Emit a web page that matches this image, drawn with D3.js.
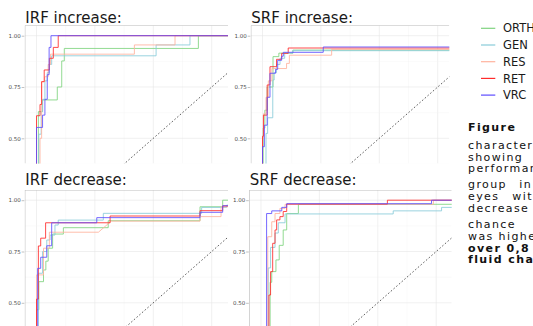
<!DOCTYPE html>
<html>
<head>
<meta charset="utf-8">
<script src="https://cdnjs.cloudflare.com/ajax/libs/d3/7.8.5/d3.min.js"></script>
<style>
  body { margin: 0; background: #fff; }
  text { font-family: 'DejaVu Sans', sans-serif; }
</style>
</head>
<body>
<div id="chart"></div>
<script>
// groups and their colours
var groups = ['ORTH', 'GEN', 'RES', 'RET', 'VRC'];
var colors = ['#7fd37f', '#88cbd9', '#ffb39e', '#ff2b2b', '#5d4dff'];
var yTicks = [0.50, 0.75, 1.00];
var titles = ['IRF increase:', 'SRF increase:', 'IRF decrease:', 'SRF decrease:'];

// ROC steps per group (ORTH, GEN, RES, RET, VRC): [fpr, tpr] where tpr steps up
// a third value 1 means the point is joined straight, not by a step
var irfIncrease = [
  [[0,0],[0.008,0.63],[0.026,0.687],[0.089,0.75],[0.108,0.877],[0.119,0.938],[0.693,1],[1,1]],
  [[0,0],[0.01,0.52],[0.02,0.63],[0.026,0.69],[0.036,0.78],[0.046,0.82],[0.055,0.86],[0.065,0.902],[0.512,0.955],[0.657,1],[1,1]],
  [[0,0],[0.015,0.5],[0.022,0.776],[0.035,0.80],[0.05,0.86],[0.06,0.91],[0.419,0.955],[0.593,1],[1,1]],
  [[0,0],[0,0.61],[0.015,0.665],[0.022,0.776],[0.033,0.833],[0.055,0.89],[0.072,0.943],[0.093,1],[1,1]],
  [[0,0],[0,0.553],[0.026,0.613],[0.036,0.69],[0.046,0.81],[0.054,0.943],[0.062,1],[1,1]]
];
var srfIncrease = [
  [[0,0],[0.003,0.55],[0.01,0.637],[0.02,0.75],[0.045,0.898],[0.07,0.915],[0.13,0.93],[1,1]],
  [[0,0],[0.015,0.524],[0.022,0.60],[0.044,0.784],[0.05,0.82],[0.06,0.86],[0.075,0.89],[0.095,0.915],[0.13,0.927],[1,1]],
  [[0,0],[0,0.5],[0.005,0.62],[0.015,0.70],[0.025,0.78],[0.04,0.84],[0.103,0.865],[0.115,0.905],[0.296,0.933],[1,1]],
  [[0,0],[0,0.51],[0.004,0.613],[0.02,0.76],[0.032,0.849],[0.06,0.885],[0.082,0.914],[0.11,0.94],[1,1]],
  [[0,0],[0,0.459],[0.008,0.564],[0.02,0.70],[0.032,0.817],[0.056,0.836],[0.065,0.88],[0.082,0.90],[0.089,0.919],[0.26,0.945],[1,1]]
];
var irfDecrease = [
  [[0,0],[0,0.466],[0.01,0.603],[0.03,0.66],[0.04,0.703],[0.05,0.766],[0.069,0.835],[0.115,0.866],[0.307,0.90],[0.70,0.968],[0.797,1],[1,1]],
  [[0,0],[0.008,0.644],[0.026,0.75],[0.044,0.806],[0.058,0.83],[0.079,0.879],[0.093,0.903],[0.286,0.936],[0.707,0.965],[0.814,0.976],[1,1]],
  [[0,0],[0,0.636],[0.03,0.766],[0.055,0.844],[0.265,0.844],[0.32,0.898,1],[0.70,0.92],[0.79,0.968],[1,1]],
  [[0,0],[0,0.518],[0.008,0.777],[0.018,0.815],[0.039,0.89],[0.315,0.923],[0.70,0.949],[0.797,0.972],[1,1]],
  [[0,0],[0.005,0.668],[0.018,0.722],[0.044,0.778],[0.065,0.89],[0.258,0.915],[0.70,0.941],[0.797,0.973],[1,1]]
];
var srfDecrease = [
  [[0,0],[0.039,0.60],[0.046,0.652],[0.064,0.709],[0.078,0.78],[0.095,0.855],[0.11,0.935],[0.16,0.98],[1,1]],
  [[0,0],[0.031,0.67],[0.041,0.77],[0.06,0.84],[0.074,0.89],[0.103,0.933],[0.566,0.948],[0.773,0.965],[1,1]],
  [[0,0],[0.029,0.822],[0.046,0.895],[0.06,0.935],[0.081,0.96],[0.103,0.98],[0.738,1],[1,1]],
  [[0,0],[0.034,0.538],[0.041,0.652],[0.05,0.79],[0.06,0.855],[0.067,0.904],[0.081,0.92],[0.095,0.945],[0.11,0.981],[0.541,1],[1,1]],
  [[0,0],[0.024,0.935],[0.046,0.948],[0.089,0.965],[0.11,0.983],[0.73,1],[1,1]]
];

// caption on the right (cut by the picture edge)
var captionLines = ['Figure', 'characteristic', 'showing', 'performance', 'group in', 'eyes with',
  'decrease', 'chance', 'was higher', 'over 0,8', 'fluid change'];
var captionBold = [true, false, false, false, false, false, false, false, false, true, true];

var svg = d3.select('#chart')
  .append('svg')
    .attr('width', 533)
    .attr('height', 326)

// panel layout (x0 = x of fpr 0, y1 = y of tpr 1)
var panels = [
  {title: titles[0], data: irfIncrease, x0: 36.5, y1: 35.7, right: 228, bottom: 163.5, ty: 22.7},
  {title: titles[1], data: srfIncrease, x0: 262.5, y1: 35.7, right: 449.3, bottom: 163.5, ty: 22.7},
  {title: titles[2], data: irfDecrease, x0: 36.5, y1: 200.2, right: 228, bottom: 326, ty: 185},
  {title: titles[3], data: srfDecrease, x0: 261, y1: 200.2, right: 451.7, bottom: 326, ty: 185}
]

function corners(steps) {
  var pts = [steps[0]]
  for (var i = 1; i < steps.length; i++) {
    if (!steps[i][2]) pts.push([steps[i][0], steps[i - 1][1]])
    pts.push(steps[i])
  }
  return pts
}

var minor = d3.range(0, 1.001, 0.125)

panels.forEach(function(p, pi) {
  var x = d3.scaleLinear().domain([0, 1]).range([p.x0, p.x0 + 233.6])
  var y = d3.scaleLinear().domain([0, 1]).range([p.y1 + 205.2, p.y1])
  var left = x(-0.05), top = y(1.05)

  svg.append('clipPath').attr('id', 'clip' + pi)
    .append('rect')
      .attr('x', left).attr('y', top)
      .attr('width', p.right - left).attr('height', p.bottom - top)

  var g = svg.append('g').attr('clip-path', 'url(#clip' + pi + ')')

  // grid
  g.selectAll('line.vgrid')
    .data(minor)
    .enter()
    .append('line')
      .attr('x1', d => x(d)).attr('x2', d => x(d))
      .attr('y1', top).attr('y2', p.bottom)
      .attr('stroke', d => (d * 4) % 1 == 0 ? '#e6e6e6' : '#f3f3f3')
      .attr('stroke-width', d => (d * 4) % 1 == 0 ? 0.6 : 0.4)
  g.selectAll('line.hgrid')
    .data(minor)
    .enter()
    .append('line')
      .attr('x1', left).attr('x2', p.right)
      .attr('y1', d => y(d)).attr('y2', d => y(d))
      .attr('stroke', d => (d * 4) % 1 == 0 ? '#e6e6e6' : '#f3f3f3')
      .attr('stroke-width', d => (d * 4) % 1 == 0 ? 0.6 : 0.4)

  // chance line
  g.append('line')
    .attr('x1', x(0)).attr('y1', y(0))
    .attr('x2', x(1)).attr('y2', y(1))
    .attr('stroke', '#333')
    .attr('stroke-width', 0.8)
    .attr('stroke-dasharray', '1.6, 2')

  var line = d3.line().x(d => x(d[0])).y(d => y(d[1]))
  g.selectAll('path.roc')
    .data(p.data)
    .enter()
    .append('path')
      .attr('d', d => line(corners(d)))
      .attr('fill', 'none')
      .attr('stroke', (d, i) => colors[i])
      .attr('stroke-width', 1)
      .attr('stroke-opacity', 0.85)

  // panel border (only top and left are in the picture)
  g.append('line')
    .attr('x1', left).attr('x2', p.right).attr('y1', top).attr('y2', top)
    .attr('stroke', '#b3b3b3').attr('stroke-width', 1)
  g.append('line')
    .attr('x1', left).attr('x2', left).attr('y1', top).attr('y2', p.bottom)
    .attr('stroke', '#b3b3b3').attr('stroke-width', 1)

  // y axis
  var ax = svg.append('g')
    .attr('transform', 'translate(' + (left - 0.5) + ',0)')
    .call(d3.axisLeft(y).tickValues(yTicks).tickFormat(d3.format('.2f')).tickSize(2.7).tickPadding(1))
  ax.select('.domain').remove()
  ax.selectAll('line').attr('stroke', '#999').attr('stroke-width', 0.6)
  ax.selectAll('text')
    .style('font-family', 'DejaVu Sans')
    .style('font-size', '5.5px')
    .attr('fill', '#4d4d4d')

  svg.append('text')
    .attr('x', left + 0.5)
    .attr('y', p.ty)
    .style('font-size', '15px')
    .attr('fill', '#1a1a1a')
    .text(p.title)
})

// legend
var legend = svg.selectAll('g.legend')
  .data(groups)
  .enter()
  .append('g')
    .attr('transform', (d, i) => 'translate(0,' + (28.3 + i * 16.7) + ')')
legend.append('line')
  .attr('x1', 481).attr('x2', 495.3)
  .attr('stroke', (d, i) => colors[i])
  .attr('stroke-width', 1.2)
legend.append('text')
  .attr('x', 503)
  .attr('dy', '0.36em')
  .style('font-size', '11.5px')
  .attr('fill', '#1a1a1a')
  .text(d => d)

// caption
var captionY = [131, 149, 160.5, 172, 188, 200, 211.7, 228.3, 240, 251.7, 263.3]
var captionWordSpace = [0, 0, 0, 0, 7.5, 8, 0, 0, 0, 0, 0]
svg.selectAll('text.caption')
  .data(captionLines)
  .enter()
  .append('text')
    .attr('class', 'caption')
    .attr('x', 468)
    .attr('y', (d, i) => captionY[i])
    .style('font-size', '11px')
    .style('letter-spacing', '1.4px')
    .style('word-spacing', (d, i) => captionWordSpace[i] + 'px')
    .style('font-weight', (d, i) => captionBold[i] ? 'bold' : 'normal')
    .attr('fill', '#111')
    .text(d => d)
</script>
</body>
</html>
